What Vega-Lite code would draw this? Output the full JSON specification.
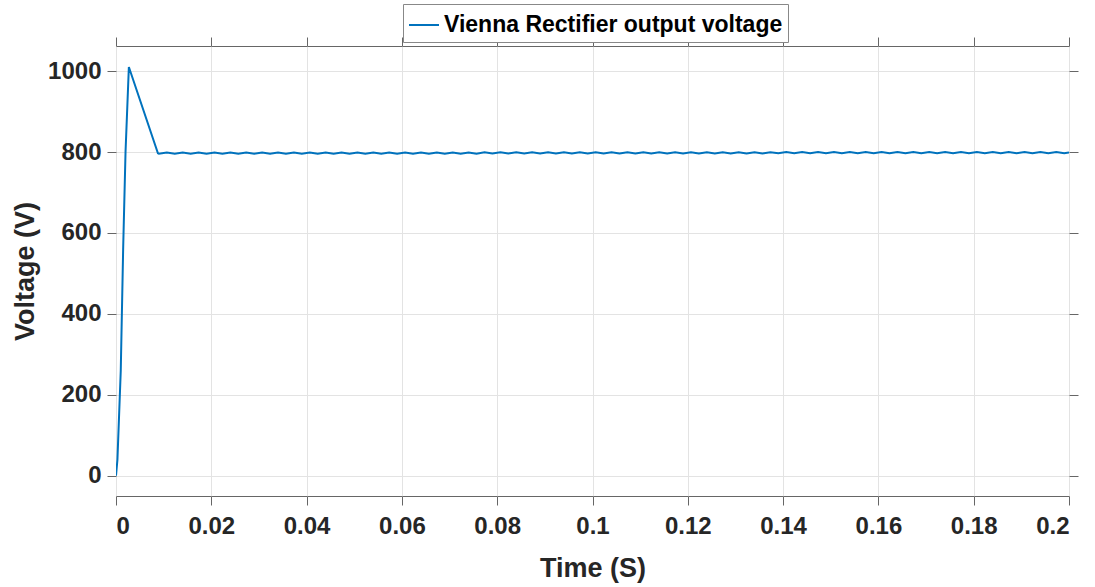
{
  "$schema": "https://vega.github.io/schema/vega-lite/v6.json",
  "width": 953,
  "height": 450,
  "autosize": "none",
  "padding": {"left": 116, "top": 46, "right": 26, "bottom": 91},
  "background": "white",
  "config": {
    "view": {"stroke": "#666666", "strokeWidth": 1},
    "font": "Liberation Sans",
    "axis": {
      "labelFont": "Liberation Sans",
      "labelFontWeight": "bold",
      "labelFontSize": 24,
      "labelColor": "#262626",
      "titleFont": "Liberation Sans",
      "titleFontWeight": "bold",
      "titleFontSize": 27,
      "titleColor": "#262626",
      "tickColor": "#666666",
      "tickSize": 9,
      "domain": false,
      "gridColor": "#e3e3e3",
      "gridWidth": 1
    }
  },
  "data": {
    "values": [
      {"t": 0, "v": 0},
      {"t": 0.0003, "v": 40},
      {"t": 0.001, "v": 260},
      {"t": 0.0015, "v": 560},
      {"t": 0.002, "v": 800},
      {"t": 0.0027, "v": 1010},
      {"t": 0.0088, "v": 797},
      {"t": 0.00900, "v": 796},
      {"t": 0.01067, "v": 799},
      {"t": 0.01233, "v": 796},
      {"t": 0.01400, "v": 799},
      {"t": 0.01567, "v": 796},
      {"t": 0.01733, "v": 799},
      {"t": 0.01900, "v": 796},
      {"t": 0.02067, "v": 799},
      {"t": 0.02233, "v": 796},
      {"t": 0.02400, "v": 799},
      {"t": 0.02567, "v": 796},
      {"t": 0.02733, "v": 799},
      {"t": 0.02900, "v": 796},
      {"t": 0.03067, "v": 799},
      {"t": 0.03233, "v": 796},
      {"t": 0.03400, "v": 799},
      {"t": 0.03567, "v": 796},
      {"t": 0.03733, "v": 799},
      {"t": 0.03900, "v": 796},
      {"t": 0.04067, "v": 799},
      {"t": 0.04233, "v": 796},
      {"t": 0.04400, "v": 799},
      {"t": 0.04567, "v": 796},
      {"t": 0.04733, "v": 799},
      {"t": 0.04900, "v": 796},
      {"t": 0.05067, "v": 799},
      {"t": 0.05233, "v": 796},
      {"t": 0.05400, "v": 799},
      {"t": 0.05567, "v": 796},
      {"t": 0.05733, "v": 799},
      {"t": 0.05900, "v": 796},
      {"t": 0.06067, "v": 799},
      {"t": 0.06233, "v": 796},
      {"t": 0.06400, "v": 799},
      {"t": 0.06567, "v": 796},
      {"t": 0.06733, "v": 799},
      {"t": 0.06900, "v": 796},
      {"t": 0.07067, "v": 799},
      {"t": 0.07233, "v": 796},
      {"t": 0.07400, "v": 799},
      {"t": 0.07567, "v": 796},
      {"t": 0.07733, "v": 799.5},
      {"t": 0.07900, "v": 796.5},
      {"t": 0.08067, "v": 799.5},
      {"t": 0.08233, "v": 796.5},
      {"t": 0.08400, "v": 799.5},
      {"t": 0.08567, "v": 796.5},
      {"t": 0.08733, "v": 799.5},
      {"t": 0.08900, "v": 796.5},
      {"t": 0.09067, "v": 799.5},
      {"t": 0.09233, "v": 796.5},
      {"t": 0.09400, "v": 799.5},
      {"t": 0.09567, "v": 796.5},
      {"t": 0.09733, "v": 799.5},
      {"t": 0.09900, "v": 796.5},
      {"t": 0.10067, "v": 799.5},
      {"t": 0.10233, "v": 796.5},
      {"t": 0.10400, "v": 799.5},
      {"t": 0.10567, "v": 796.5},
      {"t": 0.10733, "v": 799.5},
      {"t": 0.10900, "v": 796.5},
      {"t": 0.11067, "v": 799.5},
      {"t": 0.11233, "v": 796.5},
      {"t": 0.11400, "v": 799.5},
      {"t": 0.11567, "v": 796.5},
      {"t": 0.11733, "v": 799.5},
      {"t": 0.11900, "v": 796.5},
      {"t": 0.12067, "v": 799.5},
      {"t": 0.12233, "v": 796.5},
      {"t": 0.12400, "v": 799.5},
      {"t": 0.12567, "v": 796.5},
      {"t": 0.12733, "v": 799.5},
      {"t": 0.12900, "v": 796.5},
      {"t": 0.13067, "v": 799.5},
      {"t": 0.13233, "v": 796.5},
      {"t": 0.13400, "v": 799.5},
      {"t": 0.13567, "v": 796.5},
      {"t": 0.13733, "v": 799.5},
      {"t": 0.13900, "v": 797},
      {"t": 0.14067, "v": 800},
      {"t": 0.14233, "v": 797},
      {"t": 0.14400, "v": 800},
      {"t": 0.14567, "v": 797},
      {"t": 0.14733, "v": 800},
      {"t": 0.14900, "v": 797},
      {"t": 0.15067, "v": 800},
      {"t": 0.15233, "v": 797},
      {"t": 0.15400, "v": 800},
      {"t": 0.15567, "v": 797},
      {"t": 0.15733, "v": 800},
      {"t": 0.15900, "v": 797},
      {"t": 0.16067, "v": 800},
      {"t": 0.16233, "v": 797},
      {"t": 0.16400, "v": 800},
      {"t": 0.16567, "v": 797},
      {"t": 0.16733, "v": 800},
      {"t": 0.16900, "v": 797},
      {"t": 0.17067, "v": 800},
      {"t": 0.17233, "v": 797},
      {"t": 0.17400, "v": 800},
      {"t": 0.17567, "v": 797},
      {"t": 0.17733, "v": 800},
      {"t": 0.17900, "v": 797},
      {"t": 0.18067, "v": 800},
      {"t": 0.18233, "v": 797},
      {"t": 0.18400, "v": 800},
      {"t": 0.18567, "v": 797},
      {"t": 0.18733, "v": 800},
      {"t": 0.18900, "v": 797},
      {"t": 0.19067, "v": 800},
      {"t": 0.19233, "v": 797},
      {"t": 0.19400, "v": 800},
      {"t": 0.19567, "v": 797},
      {"t": 0.19733, "v": 800},
      {"t": 0.19900, "v": 797},
      {"t": 0.20000, "v": 799}
    ]
  },
  "layer": [
    {
      "mark": {"type": "line", "strokeWidth": 2, "clip": true},
      "encoding": {
        "x": {
          "field": "t", "type": "quantitative",
          "scale": {"domain": [0, 0.2], "nice": false, "zero": false},
          "axis": {
            "orient": "bottom", "title": "Time (S)",
            "values": [0, 0.02, 0.04, 0.06, 0.08, 0.1, 0.12, 0.14, 0.16, 0.18, 0.2],
            "format": "~g", "labelPadding": 9, "titlePadding": 17, "grid": true
          }
        },
        "y": {
          "field": "v", "type": "quantitative",
          "scale": {"domain": [-50, 1062], "nice": false, "zero": false},
          "axis": {
            "orient": "left", "title": "Voltage (V)",
            "values": [0, 200, 400, 600, 800, 1000],
            "format": "d", "labelPadding": 6, "titlePadding": 8, "grid": true
          }
        },
        "color": {
          "datum": "Vienna Rectifier output voltage",
          "scale": {"range": ["#0072BD"]},
          "legend": {
            "orient": "none",
            "legendX": 287,
            "legendY": -42,
            "title": null,
            "symbolType": "stroke",
            "symbolStrokeWidth": 2,
            "symbolSize": 900,
            "labelFont": "Liberation Sans",
            "labelFontWeight": "bold",
            "labelFontSize": 23,
            "labelColor": "#000000",
            "labelLimit": 0,
            "labelOffset": 4,
            "strokeColor": "#888888",
            "fillColor": "white",
            "padding": 5
          }
        }
      }
    },
    {
      "mark": {"type": "line", "opacity": 0},
      "encoding": {
        "x": {
          "field": "t", "type": "quantitative",
          "scale": {"domain": [0, 0.2], "nice": false, "zero": false},
          "axis": {
            "orient": "top", "title": null, "labels": false, "grid": false,
            "values": [0, 0.02, 0.04, 0.06, 0.08, 0.1, 0.12, 0.14, 0.16, 0.18, 0.2]
          }
        },
        "y": {
          "field": "v", "type": "quantitative",
          "scale": {"domain": [-50, 1062], "nice": false, "zero": false},
          "axis": {
            "orient": "right", "title": null, "labels": false, "grid": false,
            "values": [0, 200, 400, 600, 800, 1000]
          }
        }
      }
    }
  ],
  "resolve": {"axis": {"x": "independent", "y": "independent"}}
}
